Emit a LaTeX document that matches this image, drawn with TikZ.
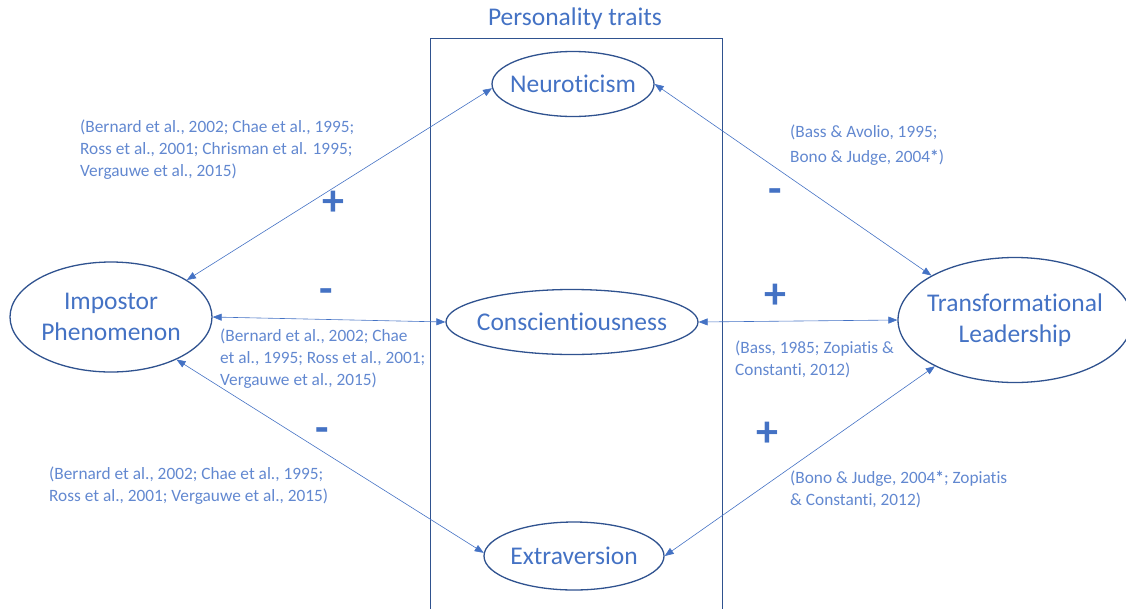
\documentclass[tikz,border=0pt]{standalone}
\usepackage{fontspec}
\setmainfont{Carlito}[Ligatures=NoCommon]
\usetikzlibrary{shapes.geometric,arrows.meta}
\definecolor{txtblue}{RGB}{68,114,196}
\definecolor{citeblue}{RGB}{98,136,208}
\definecolor{edgeblue}{RGB}{47,82,143}
\definecolor{lineblue}{RGB}{68,114,196}

\begin{document}
\begin{tikzpicture}[x=1pt,y=-1pt,
  trait/.style={ellipse,draw=edgeblue,line width=1.3pt,text=txtblue,
    inner xsep=-40pt,inner ysep=-20pt,
    align=center,font=\fontsize{25.5}{31}\selectfont},
  cite/.style={text=citeblue,align=left,anchor=north west,inner sep=0pt,
    font=\fontsize{17.3}{22}\selectfont},
  sign/.style={text=txtblue,inner sep=0pt,font=\fontsize{44}{44}\selectfont\bfseries},
  link/.style={draw=lineblue,line width=0.6pt,
    {Triangle[length=9pt,width=7pt]}-{Triangle[length=9pt,width=7pt]}}]

\useasboundingbox (0,0) rectangle (1126,608);

% frame grouping the personality traits
\draw[edgeblue,line width=0.7pt] (430,620) -- (430,38) -- (722,38) -- (722,620);
\node[text=txtblue,font=\fontsize{25.5}{30}\selectfont] (title) at (575,19) {Personality traits};

% constructs
\node[trait,minimum width=162pt,minimum height=65pt] (neu) at (573,84) {Neuroticism};
\node[trait,minimum width=252pt,minimum height=65pt] (con) at (572,322) {Conscientiousness};
\node[trait,minimum width=180pt,minimum height=68pt] (ext) at (574,556) {Extraversion};
\node[trait,minimum width=202pt,minimum height=110pt] (imp) at (111,317) {Impostor\\Phenomenon};
\node[trait,minimum width=234pt,minimum height=125pt] (tl) at (1015,320) {Transformational\\Leadership};

% relations
\draw[link] (imp.26) -- (neu.183);
\draw[link] (imp.east) -- (con.west);
\draw[link] (imp.-33) -- (ext.178);
\draw[link] (neu.east) -- (tl.152);
\draw[link] (con.east) -- (tl.west);
\draw[link] (ext.east) -- (tl.210);

% signs of the relations
\node[sign] (s1) at (333,203) {+};
\node[sign] (s2) at (326,296) {-};
\node[sign] (s3) at (322,435) {-};
\node[sign] (s4) at (775,196) {-};
\node[sign] (s5) at (775,296) {+};
\node[sign] (s6) at (767,434) {+};

% supporting studies
\node[cite] (c1) at (80,120) {(Bernard et al., 2002; Chae et al., 1995;\\Ross et al., 2001; Chrisman et al. 1995;\\Vergauwe et al., 2015)};
\node[cite] (c2) at (220,329) {(Bernard et al., 2002; Chae\\et al., 1995; Ross et al., 2001;\\Vergauwe et al., 2015)};
\node[cite] (c3) at (49,467) {(Bernard et al., 2002; Chae et al., 1995;\\Ross et al., 2001; Vergauwe et al., 2015)};
\node[cite,font=\fontsize{17.3}{25}\selectfont] (c4) at (790,125) {(Bass \& Avolio, 1995;\\Bono \& Judge, 2004{\bfseries *})};
\node[cite] (c5) at (735,341) {(Bass, 1985; Zopiatis \&\\Constanti, 2012)};
\node[cite] (c6) at (790,471) {(Bono \& Judge, 2004{\bfseries *}; Zopiatis\\\& Constanti, 2012)};
\end{tikzpicture}
\end{document}
